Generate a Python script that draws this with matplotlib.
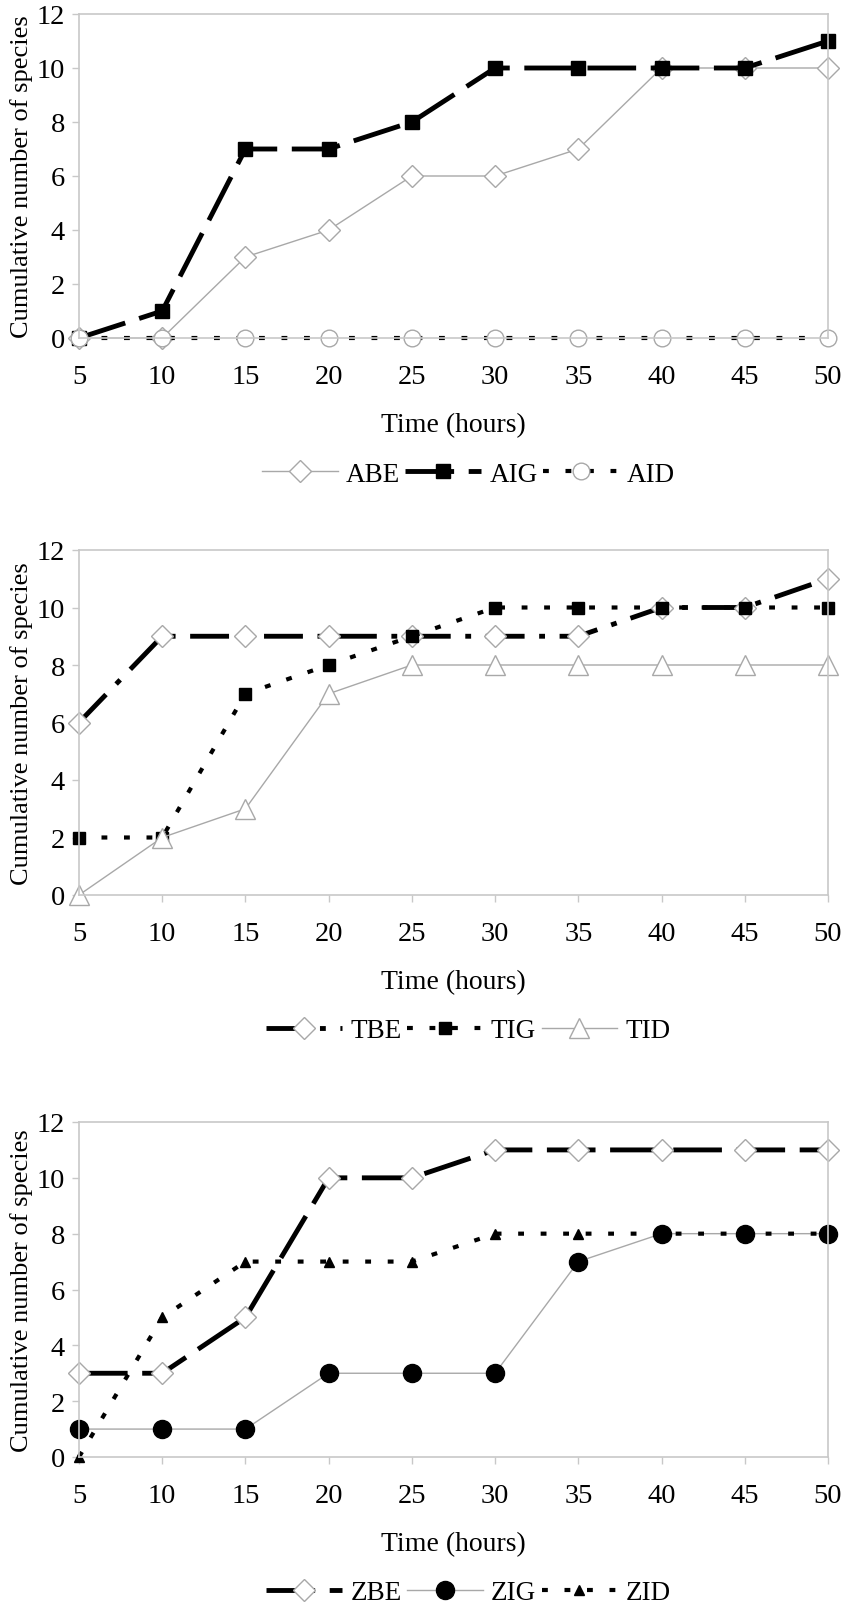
import matplotlib
matplotlib.use('Agg')
from matplotlib import pyplot as plt

# 字体：Times 风格
plt.rcParams['font.family'] = ['Liberation Serif', 'DejaVu Serif']
plt.rcParams['font.size'] = 19

# 数据
hours = [5, 10, 15, 20, 25, 30, 35, 40, 45, 50]

abe = [0, 0, 3, 4, 6, 6, 7, 10, 10, 10]
aig = [0, 1, 7, 7, 8, 10, 10, 10, 10, 11]
aid = [0, 0, 0, 0, 0, 0, 0, 0, 0, 0]

tbe = [6, 9, 9, 9, 9, 9, 9, 10, 10, 11]
tig = [2, 2, 7, 8, 9, 10, 10, 10, 10, 10]
tid = [0, 2, 3, 7, 8, 8, 8, 8, 8, 8]

zbe = [3, 3, 5, 10, 10, 11, 11, 11, 11, 11]
zig = [1, 1, 1, 3, 3, 3, 7, 8, 8, 8]
zid = [0, 5, 7, 7, 7, 8, 8, 8, 8, 8]

y_ticks = [0, 2, 4, 6, 8, 10, 12]

GREY = '#a8a8a8'
FRAME = '#c8c8c8'

# 线型
thin_grey = dict(color=GREY, lw=1.0, ls='-')
long_dash = dict(color='black', lw=3.5, ls=(0, (10, 3)))
dash_dot = dict(color='black', lw=3.5, ls=(0, (8, 3, 1.2, 3)))
dotted = dict(color='black', lw=3.0, ls=(0, (1.4, 4)))

hollow_diamond = dict(marker='D', ms=11.5, mfc='white', mec=GREY, mew=1.0)
hollow_circle = dict(marker='o', ms=12, mfc='white', mec=GREY, mew=1.0)
hollow_tri = dict(marker='^', ms=15, mfc='white', mec=GREY, mew=1.0)
black_square = dict(marker='s', ms=9.5, mfc='black', mec='black')
small_square = dict(marker='s', ms=8, mfc='black', mec='black')
black_circle = dict(marker='o', ms=13, mfc='black', mec='black')
small_tri = dict(marker='^', ms=7, mfc='black', mec='black')

W, H = 845, 1608
fig = plt.figure(figsize=(W / 100, H / 100), dpi=100)

# 三个面板：(顶部像素, 底部像素)
panels = [
    (15, 339, [('ABE', abe, thin_grey, hollow_diamond),
               ('AIG', aig, long_dash, black_square),
               ('AID', aid, dotted, hollow_circle)]),
    (551, 896, [('TBE', tbe, dash_dot, hollow_diamond),
                ('TIG', tig, dotted, small_square),
                ('TID', tid, thin_grey, hollow_tri)]),
    (1123, 1458, [('ZBE', zbe, long_dash, hollow_diamond),
                  ('ZIG', zig, thin_grey, black_circle),
                  ('ZID', zid, dotted, small_tri)]),
]

left_px, right_px = 79, 828
for top, bottom, series in panels:
    h_px = bottom - top
    ax = fig.add_axes([left_px / W, 1 - bottom / H, (right_px - left_px) / W, h_px / H])
    for name, vals, line, mk in series:
        ax.plot(hours, vals, label=name, clip_on=False, **line, **mk)
    ax.set_xlim(5, 50)
    ax.set_ylim(0, 12)
    ax.set_xticks(hours)
    ax.set_yticks(y_ticks)
    for sp in ax.spines.values():
        sp.set_color(FRAME)
        sp.set_linewidth(1.2)
    ax.tick_params(axis='both', colors=FRAME, labelcolor='black', length=5, width=1,
                   labelsize=20.5)
    ax.tick_params(axis='x', pad=14)
    ax.tick_params(axis='y', pad=5)

    ax.set_xlabel('Time (hours)', fontsize=20)
    ax.xaxis.set_label_coords(0.5, -87 / h_px)
    ax.xaxis.label.set_va('center')
    ax.set_ylabel('Cumulative number of species', fontsize=19)
    ax.yaxis.set_label_coords(-(left_px - 22) / (right_px - left_px), 0.5)
    ax.yaxis.label.set_va('center')

    ax.legend(loc='center', bbox_to_anchor=(0.52, -136 / h_px), ncol=3, frameon=False,
              handlelength=2.8, handletextpad=0.3, columnspacing=0.2, fontsize=19.5)

fig.savefig('out.png', dpi=100)
